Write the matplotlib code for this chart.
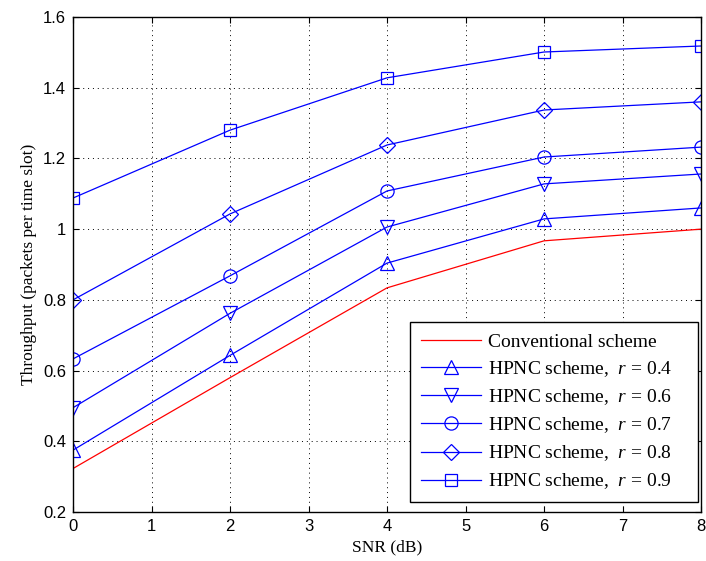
import matplotlib.pyplot as plt

snr = [0, 2, 4, 6, 8]
conventional = [0.323, 0.580, 0.834, 0.967, 1.000]
hpnc_04 = [0.375, 0.643, 0.904, 1.029, 1.060]
hpnc_06 = [0.495, 0.762, 1.006, 1.128, 1.156]
hpnc_07 = [0.633, 0.868, 1.108, 1.204, 1.232]
hpnc_08 = [0.800, 1.043, 1.238, 1.337, 1.360]
hpnc_09 = [1.088, 1.280, 1.428, 1.501, 1.518]

r_values = ['0.4', '0.6', '0.7', '0.8', '0.9']
markers = ['^', 'v', 'o', 'D', 's']
hpnc = [hpnc_04, hpnc_06, hpnc_07, hpnc_08, hpnc_09]

plt.rcParams['mathtext.fontset'] = 'custom'
plt.rcParams['mathtext.it'] = 'Liberation Serif:italic'

fig = plt.figure(figsize=(7.06, 5.61), dpi=100)
ax = fig.add_axes([0.1034, 0.0873, 0.8896, 0.8824])

ax.plot(snr, conventional, color='red', lw=0.9, label='Conventional scheme')
for r, m, y in zip(r_values, markers, hpnc):
    ms = {'D': 8, 's': 8}.get(m, 9.5)
    ax.plot(snr, y, color='blue', lw=0.9, marker=m, markersize=ms,
            markerfacecolor='none', markeredgecolor='blue', markeredgewidth=0.9,
            label=r'HPNC scheme,  $\mathit{r}$ = ' + r + '    ')

ax.set_xlim(0, 8)
ax.set_ylim(0.2, 1.6)
ax.set_xticks(range(0, 9))
ax.set_yticks([0.2, 0.4, 0.6, 0.8, 1.0, 1.2, 1.4, 1.6])
ax.set_yticklabels(['0.2', '0.4', '0.6', '0.8', '1', '1.2', '1.4', '1.6'])
ax.tick_params(direction='in', top=True, right=True, labelsize=12, length=4, pad=5)
for lbl in ax.get_xticklabels() + ax.get_yticklabels():
    lbl.set_family('Liberation Sans')
ax.grid(True, color='black', linestyle=(0, (1, 4)), lw=0.7)
for s in ax.spines.values():
    s.set_linewidth(1.0)

ax.set_xlabel('SNR (dB)', family='Liberation Serif', fontsize=12.5, labelpad=4)
ax.set_ylabel('Throughput (packets per time slot)', family='Liberation Serif', fontsize=12.5, labelpad=4)

leg = ax.legend(loc='lower right', bbox_to_anchor=(0.995, 0.02), borderaxespad=0,
                prop={'family': 'Liberation Serif', 'size': 14},
                fancybox=False, edgecolor='black', framealpha=1, handlelength=3.1,
                borderpad=0.55, labelspacing=0.43, handletextpad=0.35)
leg.get_frame().set_linewidth(1.0)

fig.savefig('out.png', dpi=100)
